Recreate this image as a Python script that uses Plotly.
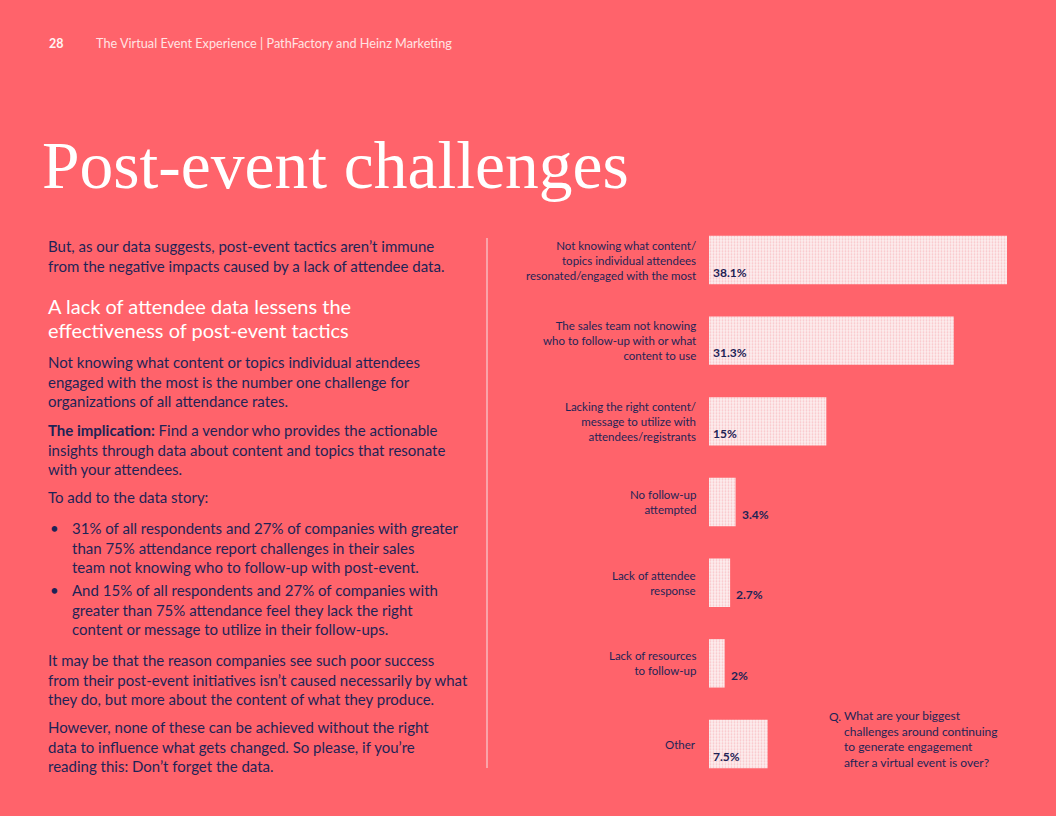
import plotly.graph_objects as go

# ---------------- data ----------------
categories = [
    "Not knowing what content/<br>topics individual attendees<br>resonated/engaged with the most",
    "The sales team not knowing<br>who to follow-up with or what<br>content to use",
    "Lacking the right content/<br>message to utilize with<br>attendees/registrants",
    "No follow-up<br>attempted",
    "Lack of attendee<br>response",
    "Lack of resources<br>to follow-up",
    "Other",
]
values = [38.1, 31.3, 15, 3.4, 2.7, 2, 7.5]
value_labels = ["38.1%", "31.3%", "15%", "3.4%", "2.7%", "2%", "7.5%"]

BG = "#FF636B"
NAVY = "#1E2356"
BAR = "#FDEEEF"
DOT = "#F9C3C7"
W, H = 1056, 816
BODY = "Lato, 'Noto Sans', sans-serif"

def py(px):
    return 1 - px / H

def pxx(px):
    return px / W

fig = go.Figure()
fig.add_trace(go.Bar(
    x=values, y=categories, orientation="h",
    width=0.6,
    marker=dict(color=BAR, line=dict(width=0),
                pattern=dict(shape=".", fillmode="replace", bgcolor=BAR,
                             fgcolor=DOT, size=3, solidity=0.3)),
    hoverinfo="skip",
))

annotations = []
# category labels
for c in categories:
    annotations.append(dict(
        x=pxx(698), xref="paper", y=c, yref="y", xanchor="right", yanchor="middle",
        text=c, align="right", showarrow=False,
        font=dict(family=BODY, size=11.5, color=NAVY)))
# value labels
for c, v, lab in zip(categories, values, value_labels):
    inside = v > 5
    annotations.append(dict(
        x=0 if inside else v, xref="x", y=c, yref="y",
        xanchor="left", yanchor="middle", xshift=2 if inside else 4, yshift=-12,
        text="<b>" + lab + "</b>", showarrow=False,
        font=dict(family=BODY, size=12, color=NAVY)))

# header
annotations.append(dict(x=pxx(47), y=py(43), xref="paper", yref="paper", xanchor="left",
                        yanchor="middle", text="<b>28</b>", showarrow=False,
                        font=dict(family=BODY, size=12.5, color="#FFF3F3")))
annotations.append(dict(x=pxx(94), y=py(43), xref="paper", yref="paper", xanchor="left",
                        yanchor="middle",
                        text="The Virtual Event Experience | PathFactory and Heinz Marketing",
                        showarrow=False, font=dict(family=BODY, size=12.7, color="#FFE3E3")))
# title
annotations.append(dict(x=pxx(40), y=py(166), xref="paper", yref="paper", xanchor="left",
                        yanchor="middle", text="Post-event challenges", showarrow=False,
                        font=dict(family="'Liberation Serif', serif", size=67.5, color="white")))

def para(text, x, ytop_center, size=15, color=NAVY, nlines=1, lh=19.5):
    yc = ytop_center + (nlines - 1) * lh / 2
    annotations.append(dict(x=pxx(x - 2), y=py(yc), xref="paper", yref="paper",
                            xanchor="left", yanchor="middle", align="left",
                            text=text, showarrow=False,
                            font=dict(family=BODY, size=size, color=color)))

para("But, as our data suggests, post-event tactics aren’t immune<br>"
     "from the negative impacts caused by a lack of attendee data.", 48, 246, nlines=2)
para("A lack of attendee data lessens the", 48, 306, size=20, color="white")
para("effectiveness of post-event tactics", 48, 330, size=20, color="white")
para("Not knowing what content or topics individual attendees<br>"
     "engaged with the most is the number one challenge for<br>"
     "organizations of all attendance rates.", 48, 362, nlines=3)
para("<b>The implication:</b> Find a vendor who provides the actionable<br>"
     "insights through data about content and topics that resonate<br>"
     "with your attendees.", 48, 430, nlines=3)
para("To add to the data story:", 48, 497)
para("•", 50, 528)
para("31% of all respondents and 27% of companies with greater<br>"
     "than 75% attendance report challenges in their sales<br>"
     "team not knowing who to follow-up with post-event.", 72, 528, nlines=3)
para("•", 50, 590)
para("And 15% of all respondents and 27% of companies with<br>"
     "greater than 75% attendance feel they lack the right<br>"
     "content or message to utilize in their follow-ups.", 72, 590, nlines=3)
para("It may be that the reason companies see such poor success<br>"
     "from their post-event initiatives isn’t caused necessarily by what<br>"
     "they do, but more about the content of what they produce.", 48, 660, nlines=3)
para("However, none of these can be achieved without the right<br>"
     "data to influence what gets changed. So please, if you’re<br>"
     "reading this: Don’t forget the data.", 48, 727, nlines=3)

# question
para("Q.", 829, 716, size=12, lh=15.6)
para("What are your biggest<br>challenges around continuing<br>"
     "to generate engagement<br>after a virtual event is over?",
     844, 716, size=12, nlines=4, lh=15.6)

shapes = [dict(type="line", xref="paper", yref="paper", x0=pxx(487), x1=pxx(487),
               y0=py(238), y1=py(768), line=dict(color="#F9B8BC", width=1.5))]

n = len(categories)
fig.update_layout(
    width=W, height=H, margin=dict(l=0, r=0, t=0, b=0),
    paper_bgcolor=BG, plot_bgcolor=BG,
    showlegend=False, bargap=0.4,
    xaxis=dict(domain=[pxx(709), pxx(1007)], range=[0, 38.1], visible=False,
               showgrid=False, zeroline=False, fixedrange=True),
    yaxis=dict(domain=[py(260 + 6 * 80.67 + 40.33), py(260 - 40.33)],
               type="category", categoryorder="array", categoryarray=categories,
               range=[n - 0.5, -0.5], visible=False, showgrid=False, fixedrange=True),
    annotations=annotations, shapes=shapes,
)

fig.write_html("out.html", config={"displayModeBar": False},
               post_script="document.body.style.margin='0';document.body.style.background='" + BG + "';")
